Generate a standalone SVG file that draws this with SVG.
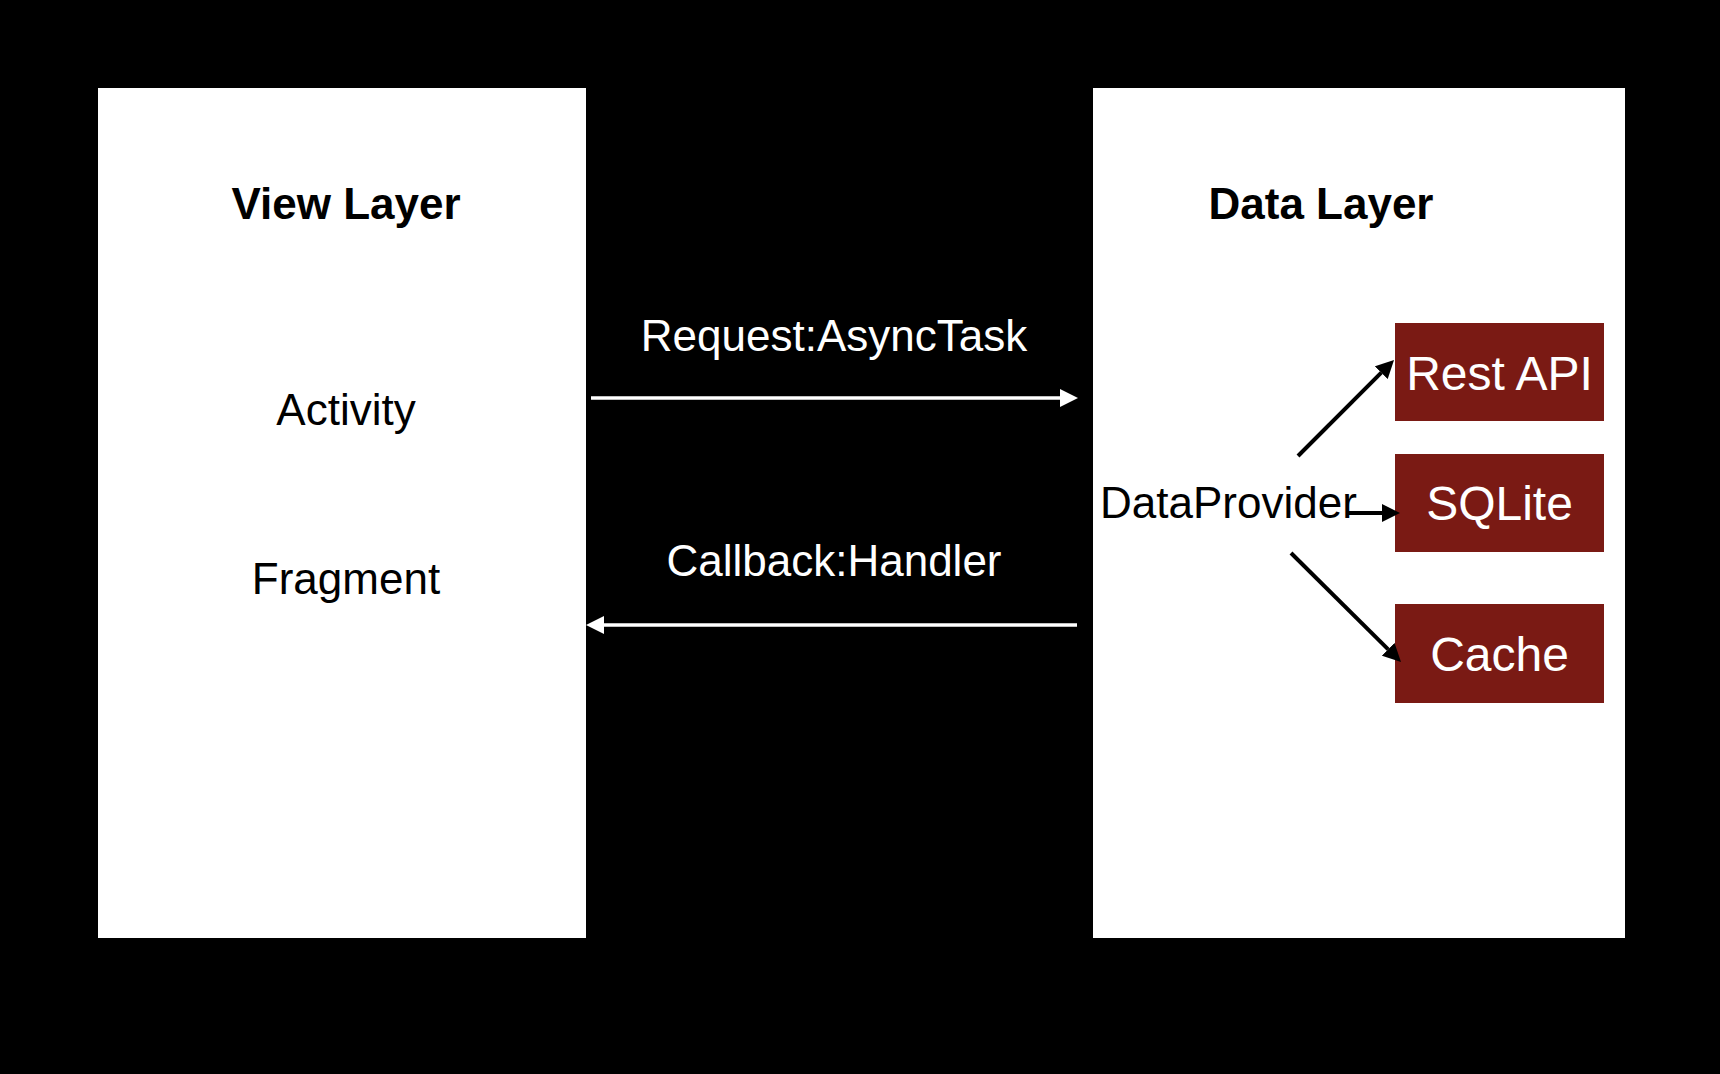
<svg xmlns="http://www.w3.org/2000/svg" width="1720" height="1074" viewBox="0 0 1720 1074">
  <style>
    .panel { fill: #ffffff; }
    .store { fill: #7a1a14; }
    .title { font-family: "Liberation Sans", Arial, sans-serif; font-size: 44px; font-weight: bold; fill: #000000; text-anchor: middle; }
    .lbl { font-family: "Liberation Sans", Arial, sans-serif; font-size: 44px; fill: #000000; }
    .wlbl { font-family: "Liberation Sans", Arial, sans-serif; font-size: 44px; fill: #ffffff; text-anchor: middle; }
    .slbl { font-family: "Liberation Sans", Arial, sans-serif; font-size: 48px; fill: #ffffff; text-anchor: middle; }
    .wline { stroke: #ffffff; stroke-width: 3.5; fill: none; }
    .bline { stroke: #000000; stroke-width: 4; fill: none; }
  </style>
  <defs>
    <marker id="headW" markerUnits="userSpaceOnUse" markerWidth="18" markerHeight="18" refX="0" refY="9" orient="auto" viewBox="0 0 18 18">
      <path d="M0,0 L18,9 L0,18 Z" fill="#ffffff"/>
    </marker>
    <marker id="headB" markerUnits="userSpaceOnUse" markerWidth="18" markerHeight="18" refX="0" refY="9" orient="auto" viewBox="0 0 18 18">
      <path d="M0,0 L18,9 L0,18 Z" fill="#000000"/>
    </marker>
  </defs>
  <rect x="0" y="0" width="1720" height="1074" fill="#000000"/>

  <g id="view-layer">
    <rect class="panel" x="98" y="88" width="488" height="850"/>
    <text class="title" x="346" y="219">View Layer</text>
    <text class="lbl" x="346" y="425" text-anchor="middle">Activity</text>
    <text class="lbl" x="346" y="594" text-anchor="middle">Fragment</text>
  </g>

  <g id="data-layer">
    <rect class="panel" x="1093" y="88" width="532" height="850"/>
    <text class="title" x="1321" y="219">Data Layer</text>
    <text class="lbl" x="1100" y="518">DataProvider</text>
  </g>

  <g id="rest-api">
    <rect class="store" x="1395" y="323" width="209" height="98"/>
    <text class="slbl" x="1499.5" y="390">Rest API</text>
  </g>

  <g id="sqlite">
    <rect class="store" x="1395" y="454" width="209" height="98"/>
    <text class="slbl" x="1499.5" y="520">SQLite</text>
  </g>

  <g id="cache">
    <rect class="store" x="1395" y="604" width="209" height="99"/>
    <text class="slbl" x="1499.5" y="671">Cache</text>
  </g>

  <g id="connectors">
    <line class="wline" x1="591" y1="398" x2="1060" y2="398" marker-end="url(#headW)"/>
    <text class="wlbl" x="834" y="351">Request:AsyncTask</text>
    <line class="wline" x1="1077" y1="625" x2="604" y2="625" marker-end="url(#headW)"/>
    <text class="wlbl" x="834" y="576">Callback:Handler</text>
    <line class="bline" x1="1298" y1="456" x2="1381.3" y2="372.7" marker-end="url(#headB)"/>
    <line class="bline" x1="1347" y1="513" x2="1382" y2="513" marker-end="url(#headB)"/>
    <line class="bline" x1="1291" y1="553" x2="1388.2" y2="649.3" marker-end="url(#headB)"/>
  </g>
</svg>
